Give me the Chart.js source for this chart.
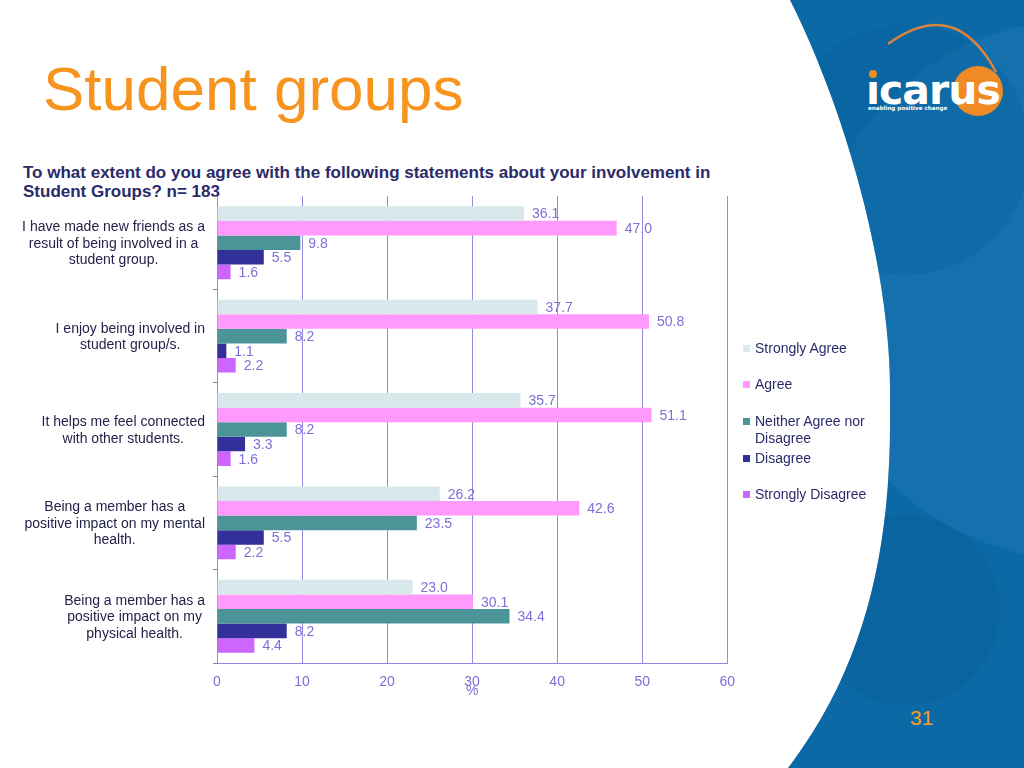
<!DOCTYPE html>
<html>
<head>
<meta charset="utf-8">
<script src="https://cdn.jsdelivr.net/npm/chart.js@4"></script>
<style>
  html, body { margin: 0; padding: 0; background: #fff; }
  body { width: 1024px; height: 768px; position: relative; overflow: hidden; font-family: "Liberation Sans", Arial, sans-serif; }
  #bg { position: absolute; left: 0; top: 0; }
  #title { position: absolute; left: 43px; top: 51px; font-size: 62px; color: #f7941d; line-height: 76px; }
  #question { position: absolute; left: 23px; top: 163px; font-size: 17px; font-weight: bold; color: #2b2a6a; line-height: 19px; }
  #chartWrap { position: absolute; left: 0; top: 186px; width: 746px; height: 514px; }
  #legend { position: absolute; left: 742px; top: 340px; font-size: 14px; color: #2b2a6a; }
  #legend .item { position: absolute; left: 0; display: flex; white-space: nowrap; line-height: 17px; }
  #legend .sw { width: 7px; height: 7px; margin: 5px 5px 0 1px; flex: none; }
  #page { position: absolute; left: 910px; top: 706px; font-size: 21px; color: #f0a030; }
</style>
</head>
<body>
<svg id="bg" width="1024" height="768">
  <defs>
    <clipPath id="blueClip">
      <path d="M790 0 C 850 120, 892 280, 890 400 C 892 540, 870 660, 788 768 L1024 768 L1024 0 Z"/>
    </clipPath>
  </defs>
  <g clip-path="url(#blueClip)">
    <rect x="760" y="0" width="264" height="768" fill="#0b69a6"/>
    <circle cx="1080" cy="290" r="270" fill="#2a86c0" opacity="0.3"/>
    <circle cx="905" cy="610" r="95" fill="#07609a" opacity="0.5"/>
    <circle cx="905" cy="150" r="125" fill="#07609a" opacity="0.35"/>
  </g>
  <path d="M888 44 Q 955 -5 996 72" fill="none" stroke="#d9833f" stroke-width="2.5"/>
  <circle cx="978" cy="91" r="25" fill="#f08a24"/>
  <text x="866" y="104" font-family="DejaVu Sans" font-weight="bold" font-size="41" fill="#fff" letter-spacing="-1">ıcarus</text>
  <circle cx="873" cy="74" r="4" fill="#f08a24"/>
  <text x="868" y="110" font-family="DejaVu Sans" font-weight="bold" font-size="5.6" fill="#fff">enabling positive change</text>
</svg>
<div id="title">Student groups</div>
<div id="question">To what extent do you agree with the following statements about your involvement in<br>Student Groups? n= 183</div>
<div id="chartWrap"><canvas id="chart"></canvas></div>
<div id="legend"></div>
<div id="page">31</div>
<script>
const categories = [
  ['I have made new friends as a', 'result of being involved in a', 'student group.'],
  ['I enjoy being involved in', 'student group/s.'],
  ['It helps me feel connected', 'with other students.'],
  ['Being a member has a', 'positive impact on my mental', 'health.'],
  ['Being a member has a', 'positive impact on my', 'physical health.']
];
const seriesNames = ['Strongly Agree', 'Agree', 'Neither Agree nor Disagree', 'Disagree', 'Strongly Disagree'];
const seriesColors = ['#d9e8ea', '#ff99fb', '#4b9599', '#33309a', '#cc66ff'];
const stronglyAgree = [36.1, 37.7, 35.7, 26.2, 23.0];
const agree = [47.0, 50.8, 51.1, 42.6, 30.1];
const neither = [9.8, 8.2, 8.2, 23.5, 34.4];
const disagree = [5.5, 1.1, 3.3, 5.5, 8.2];
const stronglyDisagree = [1.6, 2.2, 1.6, 2.2, 4.4];
const xTicks = [0, 10, 20, 30, 40, 50, 60];

const seriesValues = [stronglyAgree, agree, neither, disagree, stronglyDisagree];
const labelColor = '#7b70d8';
const gridColor = '#9489e2';
const fontFamily = '"Liberation Sans", Arial, sans-serif';

// category labels: lines centred among themselves, block right-aligned at the axis
const catLabelPlugin = {
  id: 'catLabels',
  afterDraw(chart) {
    const ctx = chart.ctx;
    const y = chart.scales.y;
    ctx.save();
    ctx.font = '14px ' + fontFamily;
    ctx.fillStyle = '#23234a';
    ctx.textAlign = 'center';
    ctx.textBaseline = 'middle';
    const lh = 16.5;
    categories.forEach((lines, i) => {
      const w = Math.max(...lines.map(l => ctx.measureText(l).width));
      const cx = 205 - w / 2;
      const cy = y.getPixelForValue(i) + 1;
      lines.forEach((l, j) => {
        ctx.fillText(l, cx, cy + (j - (lines.length - 1) / 2) * lh);
      });
    });
    ctx.restore();
  }
};

const valueLabelPlugin = {
  id: 'valueLabels',
  afterDatasetsDraw(chart) {
    const ctx = chart.ctx;
    ctx.save();
    ctx.font = '14px ' + fontFamily;
    ctx.fillStyle = labelColor;
    ctx.textAlign = 'left';
    ctx.textBaseline = 'middle';
    chart.data.datasets.forEach((ds, di) => {
      chart.getDatasetMeta(di).data.forEach((bar, i) => {
        ctx.fillText(ds.data[i].toFixed(1), bar.x + 8, bar.y + 1);
      });
    });
    ctx.restore();
  }
};

new Chart(document.getElementById('chart'), {
  type: 'bar',
  data: {
    labels: categories.map(c => c.join(' ')),
    datasets: seriesNames.map((name, i) => ({
      label: name,
      data: seriesValues[i],
      backgroundColor: seriesColors[i],
      borderWidth: 0,
      categoryPercentage: 0.78,
      barPercentage: 1.0
    }))
  },
  options: {
    indexAxis: 'y',
    responsive: true,
    maintainAspectRatio: false,
    animation: false,
    layout: { padding: { top: 10, right: 13, left: 0, bottom: 0 } },
    plugins: {
      legend: { display: false },
      tooltip: { enabled: false }
    },
    scales: {
      x: {
        min: 0,
        max: 60,
        afterBuildTicks: (scale) => { scale.ticks = xTicks.map(v => ({ value: v })); },
        afterFit: (scale) => { scale.height = 37; },
        grid: { color: gridColor, drawTicks: false, lineWidth: 1 },
        border: { color: gridColor },
        ticks: {
          color: labelColor,
          padding: 11,
          font: { size: 14, family: fontFamily }
        },
        title: {
          display: true,
          text: '%',
          color: labelColor,
          padding: { top: 0, bottom: 0 },
          font: { size: 14, family: fontFamily }
        }
      },
      y: {
        afterFit: (scale) => { scale.width = 217; },
        grid: { drawOnChartArea: false, drawTicks: true, tickLength: 4, color: '#888' },
        border: { color: gridColor },
        ticks: { display: false }
      }
    }
  },
  plugins: [catLabelPlugin, valueLabelPlugin]
});

const legend = document.getElementById('legend');
const legendTops = [0, 36, 73, 110, 146];
seriesNames.forEach((name, i) => {
  const item = document.createElement('div');
  item.className = 'item';
  item.style.top = legendTops[i] + 'px';
  const text = i === 2 ? 'Neither Agree nor<br>Disagree' : name;
  item.innerHTML = `<span class="sw" style="background:${seriesColors[i]}"></span><span>${text}</span>`;
  legend.appendChild(item);
});
</script>
</body>
</html>
